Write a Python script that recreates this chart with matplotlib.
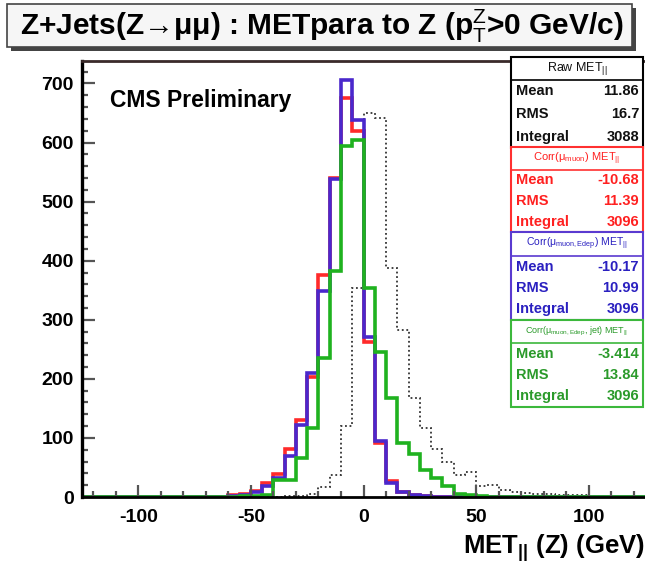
import numpy as np
import matplotlib.pyplot as plt
from matplotlib.patches import Rectangle

plt.rcParams['font.family'] = ['Liberation Sans', 'DejaVu Sans']
plt.rcParams['axes.unicode_minus'] = False
plt.rcParams['mathtext.fontset'] = 'custom'
plt.rcParams['mathtext.rm'] = 'Liberation Sans'
plt.rcParams['mathtext.it'] = 'Liberation Sans'
plt.rcParams['mathtext.bf'] = 'Liberation Sans:bold'

# 5 GeV bins, each series listed from its first bin edge
edges = np.arange(-125, 130, 5)

raw_start = -35
raw_met = [1, 2, 5, 17, 38, 120, 354, 650, 642, 387, 282, 167, 116, 82, 59,
           38, 43, 18, 20, 12, 8, 7, 5, 5, 4, 3, 3, 2, 2]

corr_mu_start = -60
corr_mu = [3, 5, 10, 23, 39, 82, 131, 203, 376, 540, 676, 620, 262, 92, 27, 9, 3, 2]

corr_edep_start = -60
corr_edep = [2, 4, 8, 18, 33, 70, 122, 210, 348, 539, 705, 638, 270, 94, 24, 9, 3, 2]

corr_jet_start = -55
corr_jet = [2, 2, 3, 29, 29, 66, 117, 236, 382, 594, 605, 353, 245, 168, 92, 72,
            46, 32, 18, 5, 3, 2]

stats_raw = ['11.86', '16.7', '3088']
stats_mu = ['-10.68', '11.39', '3096']
stats_edep = ['-10.17', '10.99', '3096']
stats_jet = ['-3.414', '13.84', '3096']


def full(start, vals):
    h = np.zeros(len(edges) - 1)
    i = int((start - edges[0]) / 5)
    h[i:i + len(vals)] = vals
    return h


W, H = 645, 569
fig = plt.figure(figsize=(W / 100, H / 100), dpi=100)


def fx(x):
    return x / W


def fy(y):
    return 1 - y / H


ax = fig.add_axes([fx(82), fy(497), fx(645) - fx(82), fy(61) - fy(497)])

ax.stairs(full(raw_start, raw_met), edges, color='#333333', lw=1.3, ls=(0, (1, 1.5)))
ax.stairs(full(corr_mu_start, corr_mu), edges, color='#ff2a2a', lw=2.6)
ax.stairs(full(corr_edep_start, corr_edep), edges, color='#4a28cc', lw=2.6)
ax.stairs(full(corr_jet_start, corr_jet), edges, color='#1fb21f', lw=2.6)

ax.set_xlim(-125, 125)
ax.set_ylim(0, 738)
ax.set_xticks([-100, -50, 0, 50, 100])
ax.set_xticks(np.arange(-120, 125, 10), minor=True)
ax.set_yticks(np.arange(0, 701, 100))
ax.set_yticks(np.arange(0, 740, 20), minor=True)
ax.tick_params(which='both', direction='in', color='#555555', width=1.6)
ax.tick_params(which='major', length=9, labelsize=14, pad=9)
ax.tick_params(which='minor', length=4.5)
ax.tick_params(axis='y', pad=6)
for lab in ax.get_xticklabels() + ax.get_yticklabels():
    lab.set_fontweight('bold')
ax.spines['left'].set_linewidth(2.4)
ax.spines['bottom'].set_linewidth(2.0)
ax.spines['top'].set_linewidth(2.0)
ax.spines['top'].set_color('#3a2a2a')
ax.spines['right'].set_visible(False)

ax.text(0.05, 0.91, 'CMS Preliminary', transform=ax.transAxes, fontsize=16.5,
        fontweight='bold', va='center')

fig.text(fx(645), fy(548), r'MET$_{\mathbf{||}}$ (Z) (GeV)', ha='right', va='center',
         fontsize=18.5, fontweight='bold')

# title box with shadow
fig.patches.append(Rectangle((fx(11), fy(51)), fx(636) - fx(11), fy(8) - fy(51),
                             transform=fig.transFigure, fc='#444444', ec='none'))
fig.patches.append(Rectangle((fx(7), fy(47)), fx(632) - fx(7), fy(4) - fy(47),
                             transform=fig.transFigure, fc='#f6f6f6', ec='#444444', lw=1.2))
fig.text(fx(322), fy(26), 'Z+Jets(Z\u2192\u03bc\u03bc) : METpara to Z (p$_\\mathrm{T}^\\mathrm{Z}$>0 GeV/c)',
         ha='center', va='center', fontsize=21.5, fontweight='bold')

# stats boxes
boxes = [
    (57, 148, 80, 'Raw MET$_{||}$', stats_raw, 'black', '#111111', 9),
    (147, 232, 170, r'Corr($\mu_{muon}$) MET$_{||}$', stats_mu, '#ff3030', '#ff2020', 8),
    (232, 320, 256, r'Corr($\mu_{muon,Edep}$) MET$_{||}$', stats_edep, '#5a3ad0', '#2a20c0', 7.5),
    (320, 407, 343, r'Corr($\mu_{muon,Edep}$, jet) MET$_{||}$', stats_jet, '#3cb83c', '#2a9a2a', 6.5),
]
for top, bot, sep, head, vals, ec, tc, hs in boxes:
    fig.patches.append(Rectangle((fx(511), fy(bot)), fx(643) - fx(511), fy(top) - fy(bot),
                                 transform=fig.transFigure, fc='white', ec=ec, lw=1.5))
    fig.lines.append(plt.Line2D([fx(511), fx(643)], [fy(sep), fy(sep)],
                                transform=fig.transFigure, color=ec, lw=1.2))
    fig.text(fx(577), fy((top + sep) / 2), head, ha='center', va='center', fontsize=hs, color=tc)
    row_h = (bot - sep) / 3
    for k, name in enumerate(['Mean', 'RMS', 'Integral']):
        yy = sep + row_h * (k + 0.5)
        fig.text(fx(516), fy(yy), name, ha='left', va='center', fontsize=10.5,
                 color=tc, fontweight='bold')
        fig.text(fx(639), fy(yy), vals[k], ha='right', va='center', fontsize=10.5,
                 color=tc, fontweight='bold')

fig.savefig('out.png', dpi=100)
